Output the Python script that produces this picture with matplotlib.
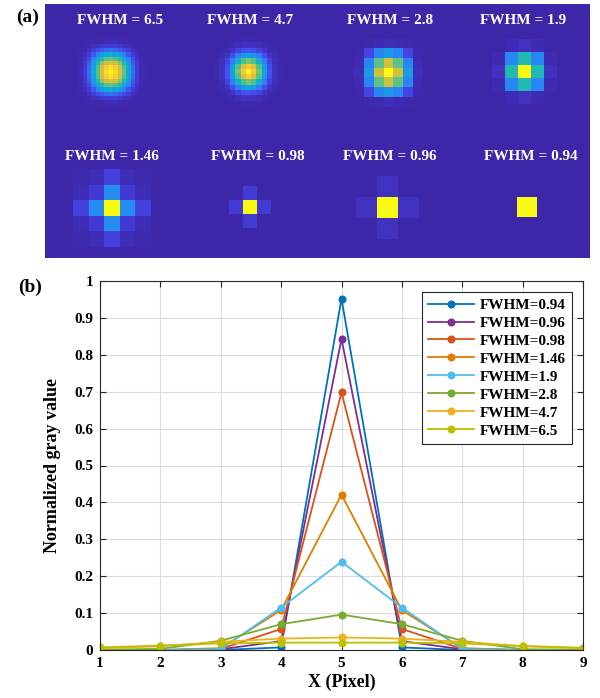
import numpy as np
import matplotlib
matplotlib.use('Agg')
import matplotlib.pyplot as plt
from matplotlib.colors import LinearSegmentedColormap

plt.rcParams['font.family'] = ['Liberation Serif', 'DejaVu Serif']
plt.rcParams['font.weight'] = 'bold'

# ---- panel (b) data: normalized gray value along the x line
x_pix = [1, 2, 3, 4, 5, 6, 7, 8, 9]
fwhm_labels = ['FWHM=0.94', 'FWHM=0.96', 'FWHM=0.98', 'FWHM=1.46',
               'FWHM=1.9', 'FWHM=2.8', 'FWHM=4.7', 'FWHM=6.5']
y_094 = [0.0, 0.0, 0.0, 0.007, 0.952, 0.007, 0.0, 0.0, 0.0]
y_096 = [0.0, 0.0, 0.002, 0.024, 0.843, 0.024, 0.002, 0.0, 0.0]
y_098 = [0.0, 0.0, 0.003, 0.057, 0.698, 0.057, 0.003, 0.0, 0.0]
y_146 = [0.0, 0.0, 0.005, 0.108, 0.421, 0.108, 0.005, 0.0, 0.0]
y_19 = [0.0, 0.0, 0.002, 0.115, 0.239, 0.115, 0.002, 0.0, 0.0]
y_28 = [0.001, 0.003, 0.025, 0.070, 0.096, 0.070, 0.025, 0.002, 0.001]
y_47 = [0.005, 0.010, 0.022, 0.031, 0.034, 0.031, 0.022, 0.010, 0.005]
y_65 = [0.007, 0.012, 0.018, 0.020, 0.020, 0.020, 0.018, 0.011, 0.006]
series = [y_094, y_096, y_098, y_146, y_19, y_28, y_47, y_65]
colors = ['#0072BD', '#7E2F8E', '#D95319', '#DE7D00',
          '#4DBEEE', '#77AC30', '#EDB120', '#BFBF00']

# ---- panel (a) data: 1D pixel profiles of each spot (relative to peak)
spot_titles = ['FWHM = 6.5', 'FWHM = 4.7', 'FWHM = 2.8', 'FWHM = 1.9',
               'FWHM = 1.46', 'FWHM = 0.98', 'FWHM = 0.96', 'FWHM = 0.94']
prof_65 = [0.006, 0.025, 0.08, 0.2, 0.4, 0.62, 0.82, 0.95, 1.0,
           0.95, 0.82, 0.62, 0.4, 0.2, 0.08, 0.025, 0.006]
prof_47 = [0.01, 0.045, 0.15, 0.36, 0.65, 0.9, 1.0, 0.9, 0.65, 0.36, 0.15, 0.045, 0.01]
prof_28 = [0.03, 0.32, 0.78, 1.0, 0.78, 0.32, 0.03]
prof_19 = [0.04, 0.5, 1.0, 0.5, 0.04]
prof_146 = [0.1, 0.27, 1.0, 0.27, 0.1]
prof_098 = [0.08, 1.0, 0.08]
prof_096 = [0.04, 1.0, 0.04]
prof_094 = [0.0, 1.0, 0.0]
profiles = [prof_65, prof_47, prof_28, prof_19, prof_146, prof_098, prof_096, prof_094]

# layout of the spots (figure pixels)
spot_cx = [111, 248, 388, 524, 112, 250, 387, 527]
spot_cy = [72, 72, 73, 72, 208, 207, 208, 207]
spot_px = [4.3, 5.3, 9.8, 13, 15.5, 14, 21, 20]
title_x = [120, 250, 390, 523, 112, 258, 390, 531]
title_y = [21, 21, 21, 21, 157, 157, 157, 157]

parula = LinearSegmentedColormap.from_list('parula', [
    (0.000, (0.242, 0.150, 0.660)),
    (0.125, (0.278, 0.290, 0.938)),
    (0.250, (0.165, 0.530, 0.960)),
    (0.375, (0.055, 0.660, 0.860)),
    (0.500, (0.130, 0.725, 0.705)),
    (0.625, (0.390, 0.775, 0.495)),
    (0.750, (0.760, 0.760, 0.255)),
    (0.875, (0.990, 0.735, 0.240)),
    (1.000, (0.977, 0.984, 0.081))])

W, H = 600, 698
fig = plt.figure(figsize=(6, 6.98), dpi=100)

# panel (a)
axa = fig.add_axes([45 / W, 1 - 258 / H, 545 / W, 254 / H])
axa.set_facecolor(parula(0.0))
for p, cx, cy, ps in zip(profiles, spot_cx, spot_cy, spot_px):
    img = np.outer(p, p)
    half = len(p) * ps / 2
    axa.imshow(img, cmap=parula, vmin=0, vmax=1, interpolation='nearest',
               extent=[cx - half, cx + half, cy + half, cy - half], aspect='auto')
for t, tx, ty in zip(spot_titles, title_x, title_y):
    axa.text(tx, ty, t, color='white', fontsize=11, fontweight='bold',
             ha='center', va='center')
axa.set_xlim(45, 590)
axa.set_ylim(258, 4)
axa.set_xticks([])
axa.set_yticks([])
for s in axa.spines.values():
    s.set_visible(False)

# panel (b)
axb = fig.add_axes([100 / W, 1 - 650 / H, 483 / W, 369 / H])
for y, c, lab in zip(series, colors, fwhm_labels):
    axb.plot(x_pix, y, '-o', color=c, lw=1.3, ms=4.8, label=lab)
axb.set_xlim(1, 9)
axb.set_ylim(0, 1)
axb.set_xticks(x_pix)
yt = np.round(np.arange(0, 1.01, 0.1), 1)
axb.set_yticks(yt)
axb.set_yticklabels(['0' if v == 0 else ('1' if v == 1 else f'{v:g}') for v in yt])
axb.grid(True, color='#dcdcdc', lw=0.8)
axb.set_axisbelow(True)
axb.tick_params(direction='in', length=4, top=True, right=True, labelsize=11,
                color='#262626', pad=5)
for s in axb.spines.values():
    s.set_color('#262626')
    s.set_linewidth(0.8)
axb.set_xlabel('X (Pixel)', fontsize=13, fontweight='bold', labelpad=3)
axb.set_ylabel('Normalized gray value', fontsize=13, fontweight='bold', labelpad=9)
leg = axb.legend(loc='upper right', bbox_to_anchor=(0.977, 0.970), borderaxespad=0,
                 fontsize=11, handlelength=3.0, handletextpad=0.35, labelspacing=0.28,
                 borderpad=0.4, fancybox=False, framealpha=1, edgecolor='#262626')
leg.get_frame().set_linewidth(0.8)
for t in leg.get_texts():
    t.set_fontweight('bold')

fig.text(28 / W, 1 - 17 / H, '(a)', fontsize=14, fontweight='bold', ha='center', va='center')
fig.text(30 / W, 1 - 287 / H, '(b)', fontsize=14, fontweight='bold', ha='center', va='center')

fig.savefig('out.png', dpi=100)
